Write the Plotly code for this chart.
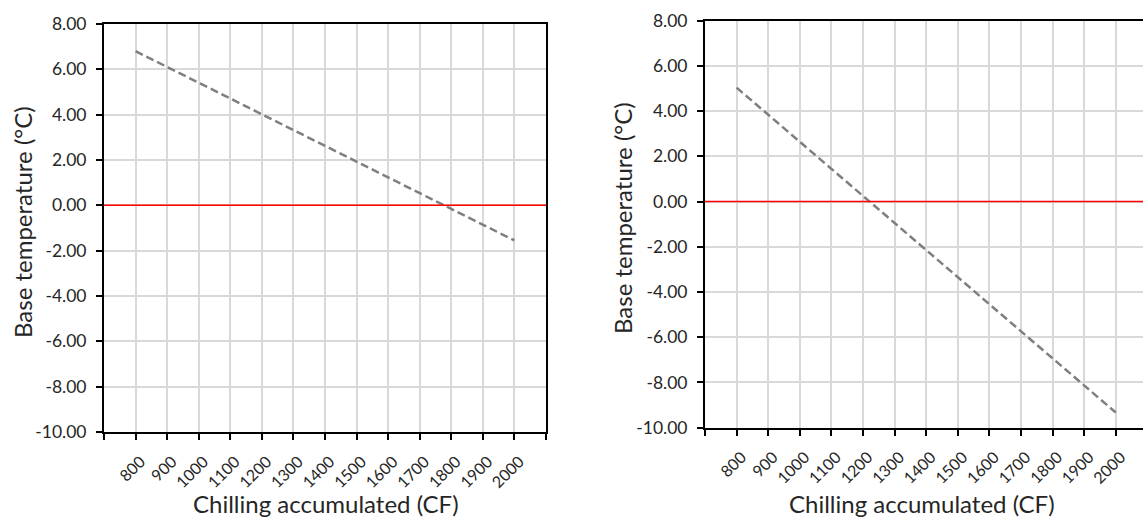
import plotly.graph_objects as go

# Data
x_left = [800, 2000]
y_left = [6.8, -1.55]
x_right = [800, 2000]
y_right = [5.04, -9.33]
x_ticks = [700, 800, 900, 1000, 1100, 1200, 1300, 1400, 1500, 1600, 1700, 1800, 1900, 2000, 2100]
x_ticktext = ["", "800", "900", "1000", "1100", "1200", "1300", "1400", "1500", "1600", "1700", "1800", "1900", "2000", ""]
y_ticks = [8, 6, 4, 2, 0, -2, -4, -6, -8, -10]
y_ticktext = [f"{v:.2f}" for v in y_ticks]

W, H = 1143, 518
FONT = "Lato"
TXT = "#262626"

fig = go.Figure()
fig.add_trace(go.Scatter(x=x_left, y=y_left, mode="lines",
                         line=dict(color="#7f7f7f", width=2.5, dash="8px,4px"),
                         xaxis="x", yaxis="y", showlegend=False))
fig.add_trace(go.Scatter(x=x_right, y=y_right, mode="lines",
                         line=dict(color="#7f7f7f", width=2.5, dash="8px,4px"),
                         xaxis="x2", yaxis="y2", showlegend=False))

def px_x(p):
    return p / W

def px_y(p):
    return 1 - p / H

common_x = dict(tickmode="array", tickvals=x_ticks, ticktext=x_ticktext, tickangle=-45,
                showgrid=True, gridcolor="#d9d9d9", gridwidth=1.5,
                showline=True, linecolor="black", linewidth=2,
                ticks="outside", ticklen=6, tickwidth=1.5, tickcolor="black",
                tickfont=dict(family=FONT, size=16, color=TXT),
                ticklabelstandoff=6, ticklabelshift=5,
                zeroline=False, automargin=False)
common_y = dict(tickmode="array", tickvals=y_ticks, ticktext=y_ticktext, range=[-10, 8],
                showgrid=True, gridcolor="#d9d9d9", gridwidth=1.5,
                showline=True, linecolor="black", linewidth=2,
                ticks="outside", ticklen=6, tickwidth=1.5, tickcolor="black",
                tickfont=dict(family=FONT, size=17.5, color=TXT),
                ticklabelstandoff=6,
                zeroline=False, automargin=False)

def ann(text, x, y, angle=0):
    return dict(text=text, x=px_x(x), y=px_y(y), xref="paper", yref="paper",
                xanchor="center", yanchor="middle", textangle=angle, showarrow=False,
                font=dict(family=FONT, size=24, color=TXT))

fig.update_layout(
    width=W, height=H,
    margin=dict(l=0, r=0, t=0, b=0),
    paper_bgcolor="white", plot_bgcolor="white",
    xaxis=dict(common_x, domain=[px_x(104), px_x(546)], range=[700, 2100], anchor="y", mirror=True),
    yaxis=dict(common_y, domain=[px_y(432), px_y(24)], anchor="x", mirror=True),
    xaxis2=dict(common_x, domain=[px_x(705), 1.0], range=[700, 2086], anchor="y2", mirror=True),
    yaxis2=dict(common_y, domain=[px_y(427.7), px_y(20.7)], anchor="x2", mirror=False),
    shapes=[
        dict(type="line", xref="x domain", yref="y", x0=0, x1=1, y0=0, y1=0,
             line=dict(color="#ff0000", width=1.5)),
        dict(type="line", xref="x2 domain", yref="y2", x0=0, x1=1, y0=0, y1=0,
             line=dict(color="#ff0000", width=1.5)),
    ],
    annotations=[
        ann("Base temperature (°C)", 22, 222, -90),
        ann("Base temperature (°C)", 622, 218, -90),
        ann("Chilling accumulated (CF)", 326, 503),
        ann("Chilling accumulated (CF)", 922, 503),
    ],
)

fig.write_html("out.html")
